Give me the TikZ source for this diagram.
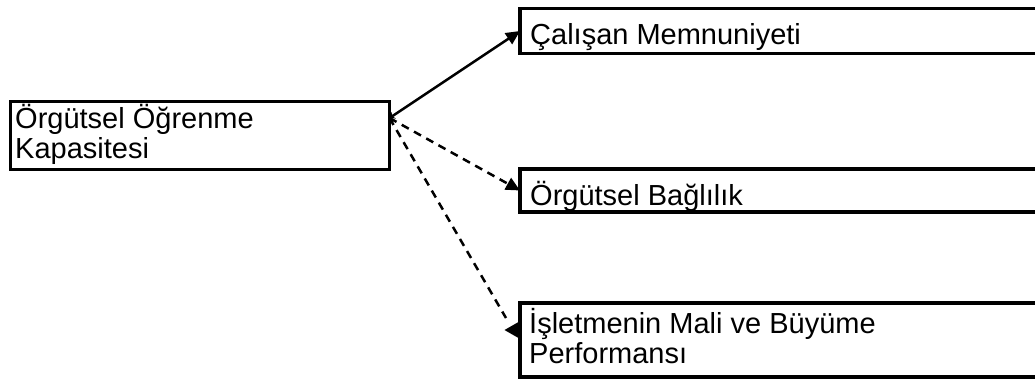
\documentclass[tikz,border=0pt]{standalone}
\usepackage{fontspec}
\setmainfont{Liberation Sans}
\usetikzlibrary{arrows.meta}
\begin{document}
\begin{tikzpicture}[x=1pt,y=-1pt,
  box/.style={draw=black,line width=3.5pt,fill=none},
  boxtext/.style={anchor=base west,inner sep=0pt,align=left,
    font=\fontsize{29}{30}\selectfont},
  conn/.style={draw=black,line width=2.5pt},
  dashline/.style={dash pattern=on 8pt off 6pt},
  headtip/.style={-{Triangle[length=14pt,width=13pt]}}]
\useasboundingbox (0,0) rectangle (1035,381);
\clip (0,0) rectangle (1035,381);
\fill[white] (0,0) rectangle (1035,381);

% boxes
\draw[box] (10.5,101.5) rectangle (389.5,169.5);
\coordinate (lbox) at (389.5,118);
\draw[box] (520,8.5) rectangle (1050,53.5);
\coordinate (tbox) at (520,31);
\draw[box] (520,169) rectangle (1050,212);
\coordinate (mbox) at (520,190.5);
\draw[box] (520,303) rectangle (1050,377);
\coordinate (bbox) at (518.5,330);

% texts (base anchor sits on the last line)
\node[boxtext] (t1) at (15,158) {Örgütsel Öğrenme\\Kapasitesi};
\node[boxtext] (t2) at (530,44) {Çalışan Memnuniyeti};
\node[boxtext] (t3) at (530,205) {Örgütsel Bağlılık};
\node[boxtext] (t4) at (529,363) {İşletmenin Mali ve Büyüme\\Performansı};

% connectors
\draw[conn,{Stealth[length=5pt,width=8pt]}-{Triangle[length=14pt,width=13pt]}]
  (lbox) -- (tbox);
\draw[conn,dashline,headtip] (lbox) -- (mbox);
\coordinate (bend) at (506,318);
\draw[conn,dashline] (lbox) -- (bend);
\fill[black] (bbox) ++(0,-8) -- ++(-14,8) -- ++(14,8) -- cycle;
\end{tikzpicture}
\end{document}
